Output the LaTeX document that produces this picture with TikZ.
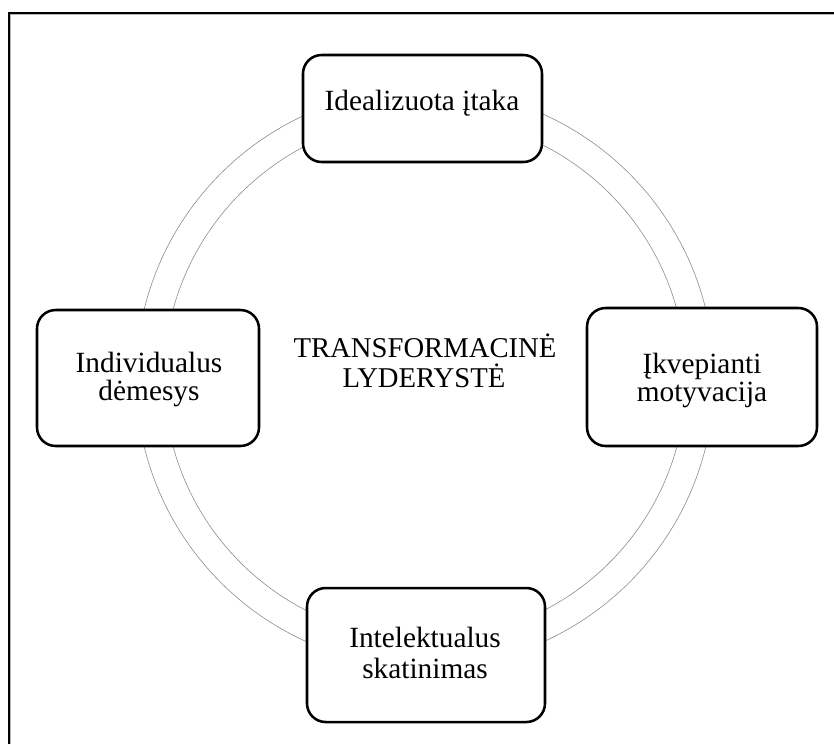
\documentclass[tikz,border=0pt]{standalone}
\usepackage{fontspec}
\setmainfont{Liberation Serif}
\begin{document}
\begin{tikzpicture}[x=0.75pt,y=-0.75pt,
  boxstyle/.style={draw=black,line width=1.9pt,fill=white,rounded corners=14pt,inner sep=0pt},
  ringstyle/.style={draw=black!45,line width=0.45pt},
  lbl/.style={anchor=base,inner sep=0pt,font=\fontsize{22}{25}\selectfont},
  ttl/.style={anchor=base,inner sep=0pt,font=\fontsize{21.5}{25}\selectfont}]
\useasboundingbox (0,0) rectangle (834,744);
% frame
\draw[black!30,line width=1pt] (10.8,744) -- (10.8,14.8) -- (834,14.8);
\draw[black,line width=1.5pt] (9,744) -- (9,13) -- (834,13);
% ring
\coordinate (c) at (425,378);
\draw[ringstyle] (c) circle[radius=216.75pt];
\draw[ringstyle] (c) circle[radius=195.75pt];
% boxes
\node[boxstyle,minimum width=179.25pt,minimum height=80.25pt] (top) at (422.5,108.5) {};
\node[boxstyle,minimum width=166.5pt,minimum height=102pt] (left) at (148,378) {};
\node[boxstyle,minimum width=172.5pt,minimum height=103.5pt] (right) at (702,377) {};
\node[boxstyle,minimum width=178.5pt,minimum height=100.5pt] (bottom) at (426,655) {};
% texts
\node[lbl] (t1) at (422,110) {Idealizuota įtaka};
\node[lbl] (l1) at (149,372) {Individualus};
\node[lbl] (l2) at (149,400) {dėmesys};
\node[lbl] (r1) at (702,373) {Įkvepianti};
\node[lbl] (r2) at (702,401) {motyvacija};
\node[lbl] (b1) at (425,647) {Intelektualus};
\node[lbl] (b2) at (425,678) {skatinimas};
\node[ttl] (c1) at (425,357) {TRANSFORMACINĖ};
\node[ttl] (c2) at (424,387) {LYDERYSTĖ};
\end{tikzpicture}
\end{document}
